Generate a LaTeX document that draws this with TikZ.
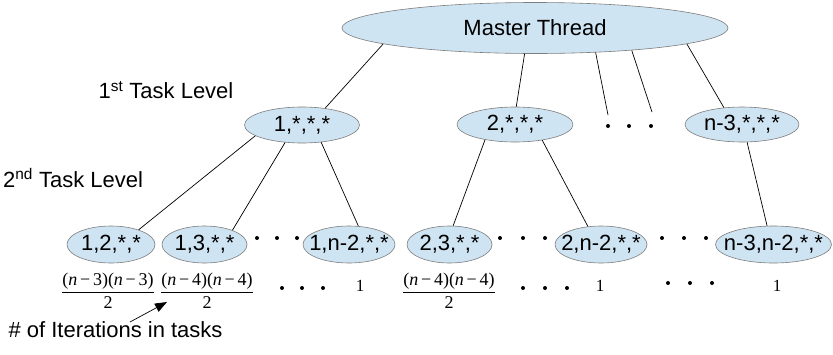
\documentclass[tikz,border=0pt]{standalone}
\usepackage{fontspec}
\setmainfont{Liberation Serif}
\setsansfont{Liberation Sans}
\usetikzlibrary{shapes.geometric,arrows.meta}
\definecolor{nodefill}{RGB}{207,228,242}
\definecolor{nodeedge}{RGB}{125,125,125}
\newcommand{\fac}[1]{(\textit{n}\hspace{0.15em}−\hspace{0.15em}#1)}
\newcommand{\itfrac}[1]{$\displaystyle\frac{\mbox{\fac{#1}\fac{#1}}}{\mbox{2}}$}
\begin{document}
\begin{tikzpicture}[x=1pt,y=-1pt,
  task/.style={ellipse, draw=nodeedge, fill=nodefill, line width=0.6pt, inner sep=0pt,
               font=\sffamily\fontsize{22}{26}\selectfont},
  conn/.style={line width=0.7pt, black},
  lbl/.style={font=\sffamily\fontsize{22}{26}\selectfont, inner sep=0pt},
  fracl/.style={font=\fontsize{18}{21}\selectfont, inner sep=0pt, anchor=base}]
\useasboundingbox (0,0) rectangle (833,354);

% master
\node[task, minimum width=386pt, minimum height=51pt] (M) at (535,28) {\makebox[0pt]{Master Thread}};

% first level
\node[task, minimum width=115pt, minimum height=36pt] (L1a) at (302,125) {\makebox[0pt]{1,*,*,*}};
\node[task, minimum width=116pt, minimum height=35pt] (L1b) at (515,124.5) {\makebox[0pt]{2,*,*,*}};
\node[task, minimum width=114pt, minimum height=35pt] (L1c) at (742,124.5) {\makebox[0pt]{n-3,*,*,*}};

% second level
\node[task, minimum width=88pt, minimum height=37pt] (A) at (111,244.5) {\makebox[0pt]{1,2,*,*}};
\node[task, minimum width=85pt, minimum height=37pt] (B) at (204.5,244.5) {\makebox[0pt]{1,3,*,*}};
\node[task, minimum width=92pt, minimum height=37pt] (C) at (349,244.5) {\makebox[0pt]{1,n-2,*,*}};
\node[task, minimum width=85pt, minimum height=37pt] (D) at (449.5,244.5) {\makebox[0pt]{2,3,*,*}};
\node[task, minimum width=92pt, minimum height=37pt] (E) at (601,244.5) {\makebox[0pt]{2,n-2,*,*}};
\node[task, minimum width=116pt, minimum height=37pt] (F) at (773.5,244.5) {\makebox[0pt]{n-3,n-2,*,*}};

% labels
\node[lbl] (lv1) at (166,90) {1\textsuperscript{st} Task Level};
\node[lbl] (lv2) at (73,178) {2\textsuperscript{nd} Task Level};
\node[lbl] (iter) at (115.5,330) {\# of Iterations in tasks};

% connectors
\coordinate (f1) at (608,115);
\coordinate (f2) at (652,112);
\draw[conn] (M.186.2) -- (L1a.36.5);
\draw[conn] (M.248.2) -- (L1b.86.7);
\draw[conn] (M.338.2) -- (f1);
\draw[conn] (M.347.8) -- (f2);
\draw[conn] (M.354.4) -- (L1c.137.4);
\draw[conn] (L1a.193.4) -- (A.28.4);
\draw[conn] (L1a.226.6) -- (B.27.1);
\draw[conn] (L1a.318) -- (C.63.6);
\draw[conn] (L1b.207.9) -- (D.79.2);
\draw[conn] (L1b.330.4) -- (E.126.3);
\draw[conn] (L1c.286) -- (F.109.5);

% dots
\foreach \x in {608,629,651} \fill (\x,126) circle (2pt);
\foreach \x in {257,277,297,500,523,545,662,684,706} \fill (\x,238) circle (2pt);
\foreach \x in {282,302,323,523,545,567} \fill (\x,288) circle (2pt);
\foreach \x in {668,690,712} \fill (\x,283) circle (2pt);

% iteration counts
\node[fracl] (qa) at (108,297) {\itfrac{3}};
\node[fracl] (qb) at (207,297) {\itfrac{4}};
\node[fracl, font=\fontsize{17}{20}\selectfont] (qc) at (360,291) {1};
\node[fracl] (qd) at (449,297) {\itfrac{4}};
\node[fracl, font=\fontsize{17}{20}\selectfont] (qe) at (600,291) {1};
\node[fracl, font=\fontsize{17}{20}\selectfont] (qf) at (777,291) {1};

% arrow
\coordinate (atail) at (130,322);
\coordinate (atip) at (167,302);
\draw[conn, -{Triangle[length=12pt,width=9pt]}] (atail) -- (atip);
\end{tikzpicture}
\end{document}
